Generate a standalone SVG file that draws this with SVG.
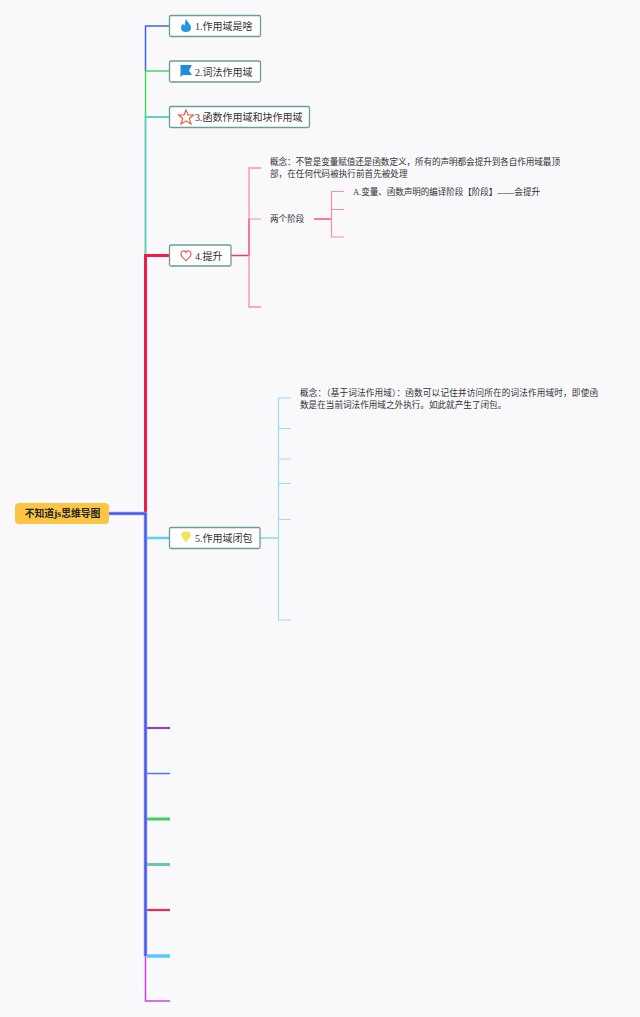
<svg xmlns="http://www.w3.org/2000/svg" width="640" height="1017" viewBox="0 0 640 1017">
<style>
text{font-family:"Liberation Serif","Noto Sans CJK SC",serif;fill:#333}
.t{font-size:10px}
.s{font-size:8.600px}
.n{fill:#fff;stroke:#6a9e92;stroke-width:1.300}
.c{fill:none;stroke-linejoin:miter}
</style>
<rect width="640" height="1017" fill="#f9f9fb"/>
<g id="connectors" class="c">
<path d="M170 26H145.500V71" stroke="#3a68e0" stroke-width="1.500"/>
<path d="M170 71H145.500V117" stroke="#3fdc5c" stroke-width="1.500"/>
<path d="M170 117H145.500V256" stroke="#62d0b8" stroke-width="2"/>
<path d="M170 255.500H145.500V513" stroke="#ee1c4a" stroke-width="3"/>
<path d="M147 538H170" stroke="#5cd0f5" stroke-width="2.500"/>
<path d="M147 728H170" stroke="#a02fd4" stroke-width="2"/>
<path d="M147 773.500H170" stroke="#4c7ae8" stroke-width="1.500"/>
<path d="M147 819H170" stroke="#3fd05a" stroke-width="3"/>
<path d="M147 864.500H170" stroke="#6cc6ae" stroke-width="3"/>
<path d="M147 910H170" stroke="#ee2a50" stroke-width="2.200"/>
<path d="M147 956H170" stroke="#56c8ff" stroke-width="3.500"/>
<path d="M145.500 955V1001H170" stroke="#cf3fe6" stroke-width="1.500"/>
<path d="M109 513.500H145.500V956" stroke="#9d9cff" stroke-width="3.500"/>
<path d="M109 513.500H145.500V956" stroke="#3f55f0" stroke-width="2"/>
<path d="M231 255.500H249" stroke="#ee3a5c" stroke-width="1.500"/>
<path d="M261 168H249V307H261" stroke="#f78fa8" stroke-width="1.300"/>
<path d="M249 219H261" stroke="#f78fa8" stroke-width="1"/>
<path d="M249 219V256" stroke="#ee5c7c" stroke-width="1.300"/>
<path d="M314 219H331.500" stroke="#ee3a5c" stroke-width="1.300"/>
<path d="M344 191.500H331.500V237H344" stroke="#f78fa8" stroke-width="1.200"/>
<path d="M331.500 209.500H344" stroke="#f78fa8" stroke-width="1"/>
<path d="M260 538H278" stroke="#80d6f6" stroke-width="1.500"/>
<path d="M291 398H278.500V620H291" stroke="#9cdcf6" stroke-width="1.200"/>
<path d="M278 428.500H291M278 459H291M278 483.500H291M278 519.500H291" stroke="#9cdcf6" stroke-width="1"/>
</g>
<g id="root"><rect x="15" y="503" width="94" height="21" rx="4" fill="#fdc544"/><text x="62.500" y="517.300" text-anchor="middle" font-size="9.800" font-weight="bold" style="fill:#222">不知道js思维导图</text></g>
<g id="node1"><rect class="n" x="169.500" y="15.500" width="91" height="21" rx="1.500"/>
<path d="M186 19C187 22 191 24 191 28C191 30.500 189 32 186 32C183 32 181 30.500 181 28C181 26 182 25 183 23.500C183.500 25 184 25.500 184.500 25.500C185 24 185 21 186 19Z" fill="#2a96e0"/>
<text class="t" x="195" y="30">1.作用域是啥</text></g>
<g id="node2"><rect class="n" x="169.500" y="61" width="91" height="21" rx="1.500"/>
<path d="M180.500 65H192L189 70.500L192 75H183L180.500 77Z" fill="#1e8edc"/>
<text class="t" x="195" y="75.500">2.词法作用域</text></g>
<g id="node3"><rect class="n" x="169.500" y="106.500" width="140" height="21" rx="1.500"/>
<path d="M186 110L188 115H193.500L189.300 118.500L191 124L186 120.800L181 124L182.700 118.500L178.500 115H184Z" fill="none" stroke="#e8523c" stroke-width="1.100"/>
<text class="t" x="195" y="121">3.函数作用域和块作用域</text></g>
<g id="node4"><rect class="n" x="169.500" y="245" width="61.500" height="21" rx="1.500"/>
<path d="M186 260.500C183 258 181 256.500 181 254C181 250.500 185 250 186 252.500C187 250 191 250.500 191 254C191 256.500 189 258 186 260.500Z" fill="none" stroke="#e0505a" stroke-width="1.100"/>
<text class="t" x="195" y="259.500">4.提升</text></g>
<g id="node5"><rect class="n" x="169.500" y="527.500" width="90.500" height="21" rx="1.500"/>
<path d="M181 535L183 532H189L191 535L186 542Z" fill="#f3e552" stroke="#e6d84c" stroke-width=".5"/>
<text class="t" x="195" y="542">5.作用域闭包</text></g>
<g id="concept1"><text class="s" x="270" y="165" textLength="290" lengthAdjust="spacing">概念：不管是变量赋值还是函数定义，所有的声明都会提升到各自作用域最顶</text><text class="s" x="270" y="177">部，在任何代码被执行前首先被处理</text></g>
<g id="phases"><text class="s" x="270" y="222">两个阶段</text></g>
<g id="phaseA"><text class="s" x="353" y="195" textLength="187" lengthAdjust="spacing">A.变量、函数声明的编译阶段【阶段】——会提升</text></g>
<g id="concept2"><text class="s" x="300" y="396" textLength="298" lengthAdjust="spacing">概念：（基于词法作用域）：函数可以记住并访问所在的词法作用域时，即使函</text><text class="s" x="300" y="408">数是在当前词法作用域之外执行。如此就产生了闭包。</text></g>
</svg>
